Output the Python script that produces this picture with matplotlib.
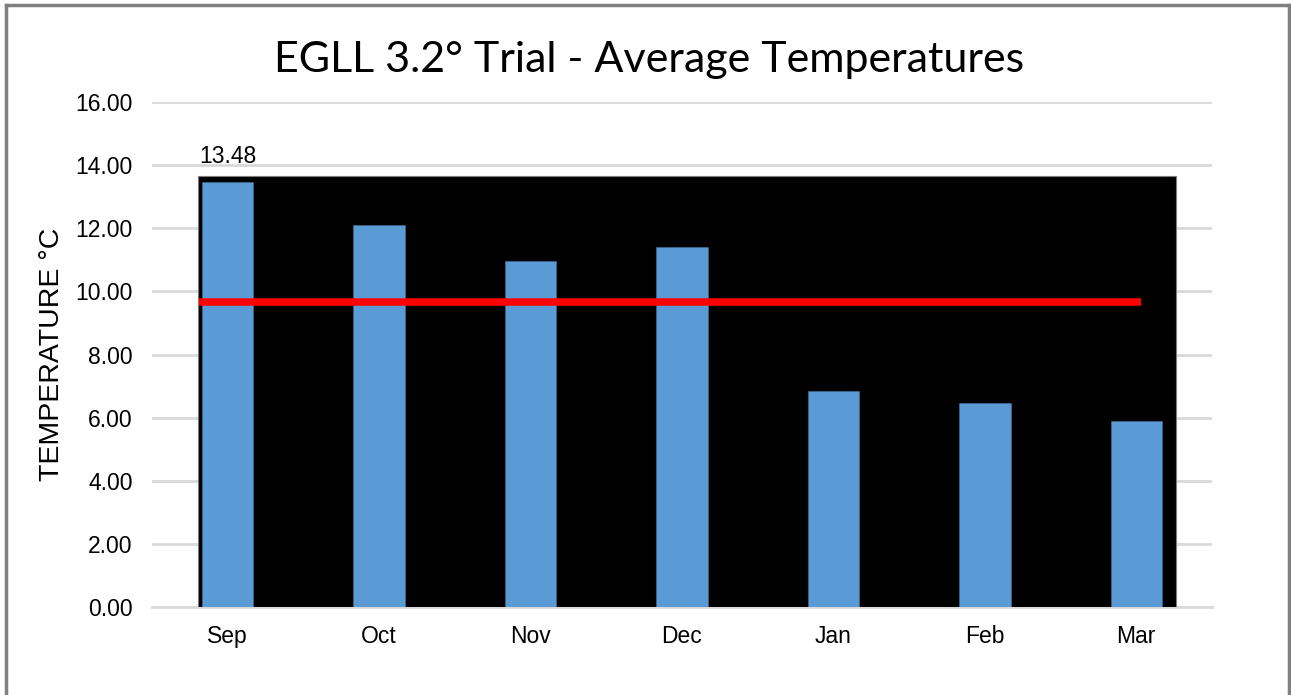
from matplotlib import pyplot as plt
from matplotlib.patches import Rectangle
from matplotlib.lines import Line2D

months = ['Sep', 'Oct', 'Nov', 'Dec', 'Jan', 'Feb', 'Mar']
temps = [13.48, 12.10, 10.96, 11.41, 6.84, 6.46, 5.89]
average = 9.66
y_ticks = [0, 2, 4, 6, 8, 10, 12, 14, 16]

BAR_COLOUR = '#5B9BD5'
GRID_COLOUR = '#D9D9D9'
TEXT_FONT = 'Liberation Sans'

fig = plt.figure(figsize=(12.91, 6.95), dpi=100)
ax = fig.add_axes([0.1177, 0.1266, 0.8211, 0.7266])

# black backdrop behind the bars (covers the grid)
ax.add_patch(Rectangle((0.0434, 0), 0.9226, 0.8535, transform=ax.transAxes,
                       facecolor='black', edgecolor='#7f7f7f', linewidth=0.8, zorder=1))

x = list(range(len(months)))
ax.bar(x, temps, width=0.34, color=BAR_COLOUR, edgecolor='#41719C', linewidth=0.4, zorder=2)
ax.axhline(average, xmin=0.044, xmax=0.933, color='#FF0000', linewidth=5.4,
           solid_capstyle='butt', zorder=3)

ax.annotate(f'{temps[0]:.2f}', (x[0], temps[0]), xytext=(0, 10), textcoords='offset points',
            ha='center', va='bottom', fontsize=16.5, family=TEXT_FONT)

ax.set_xlim(-0.5, len(months) - 0.5)
ax.set_ylim(0, 16)
ax.set_yticks(y_ticks)
ax.set_yticklabels([f'{v:.2f}' for v in y_ticks], fontsize=16.5, family=TEXT_FONT)
ax.set_xticks(x)
ax.set_xticklabels(months, fontsize=16.5, family=TEXT_FONT)
ax.tick_params(axis='both', length=0)
ax.tick_params(axis='y', pad=14)
ax.tick_params(axis='x', pad=13)

ax.yaxis.grid(True, color=GRID_COLOUR, linewidth=2, zorder=0)
ax.set_axisbelow(True)
for side in ['top', 'right', 'left']:
    ax.spines[side].set_visible(False)
ax.spines['bottom'].set_color(GRID_COLOUR)
ax.spines['bottom'].set_linewidth(2)
ax.spines['bottom'].set_zorder(0.5)

ax.set_ylabel('TEMPERATURE °C', fontsize=20.5, family=TEXT_FONT, labelpad=7)

fig.text(0.503, 0.913, 'EGLL 3.2° Trial - Average Temperatures', ha='center', va='center',
         fontsize=31, family='Lato')

# grey frame around the chart (no bottom edge)
for xs, ys in [([0.0047, 0.0047], [0, 0.9935]), ([0.0047, 0.9985], [0.9935, 0.9935]),
               ([0.9985, 0.9985], [0, 0.9935])]:
    fig.add_artist(Line2D(xs, ys, color='#808080', linewidth=2.5, transform=fig.transFigure))

fig.savefig('out.png', dpi=100)
